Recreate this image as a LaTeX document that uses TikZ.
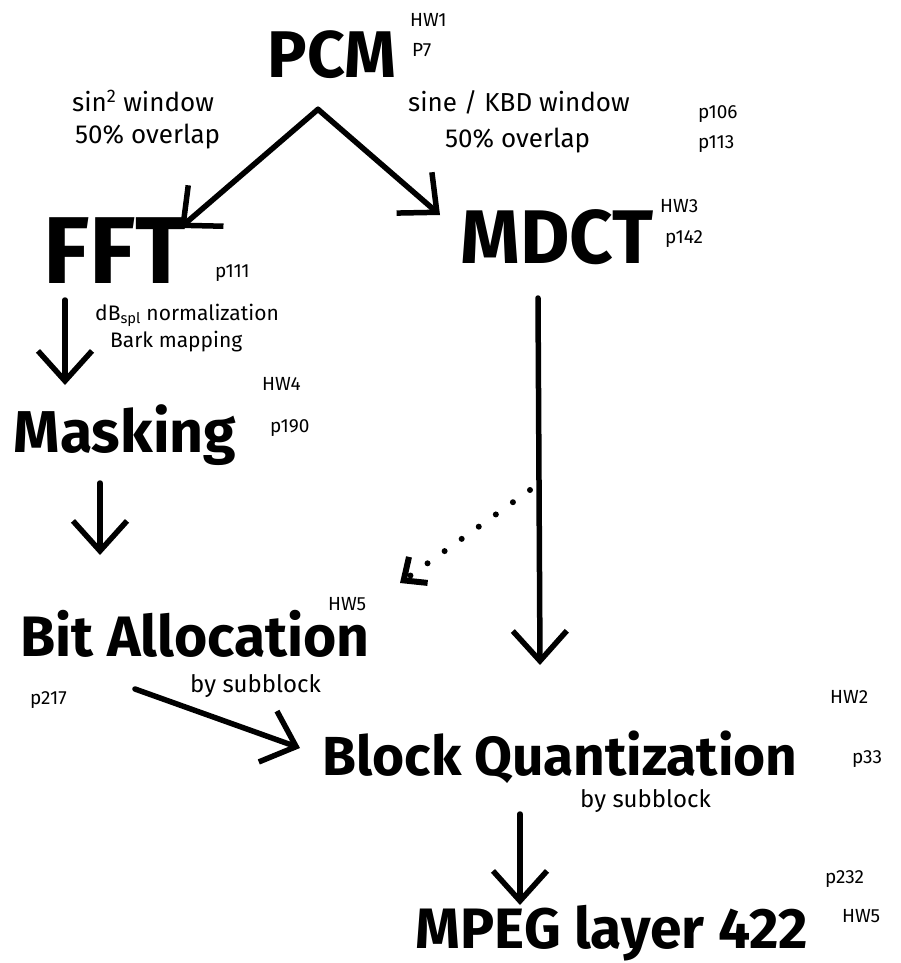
\documentclass[tikz,border=0pt]{standalone}
\usepackage{fontspec}
\setmainfont{Fira Sans}
\usetikzlibrary{arrows.meta,calc}

\begin{document}
\begin{tikzpicture}[x=1pt,y=-1pt,
  flow/.style={-{Straight Barb[length=30pt,width=54pt]},line width=5.5pt,line cap=round,line join=round},
  hint/.style={-{Straight Barb[length=18pt,width=32pt]},line width=6pt,line cap=round,dash pattern=on 0pt off 21pt},
  big/.style={inner sep=0pt,anchor=base,font=\fontsize{#1}{#1}\selectfont\bfseries},
  note/.style={inner sep=0pt,anchor=base west,font=\fontsize{26}{31}\selectfont},
  tag/.style={inner sep=0pt,anchor=base west,font=\fontsize{19}{22}\selectfont}]
  \useasboundingbox (0,0) rectangle (901,963);
  % main blocks
  \node[big=66] (pcm) at (332,78) {PCM};
  \node[big=95] (fft) at (115,283) {FFT};
  \node[big=76] (mdct) at (557,263) {MDCT};
  \node[big=59] (mask) at (125,452) {Masking};
  \node[big=57] (ba) at (195,656) {Bit Allocation};
  \node[big=55] (bq) at (560,775) {Block Quantization};
  \node[big=57] (mpeg) at (612,948) {MPEG layer 422};
  % notes on the blocks
  \node[tag] (hwa) at (410,27) {HW1};
  \node[tag] (pa) at (412,57) {P7};
  \node[note] (sinw) at (72,112) {sin\textsuperscript{2} window};
  \node[note] (sinov) at (75,143) {50\% overlap};
  \node[note] (kbdw) at (408,112) {sine / KBD window};
  \node[note] (kbdov) at (445,147) {50\% overlap};
  \node[tag] (pb) at (698,118) {p106};
  \node[tag] (pc) at (698,148) {p113};
  \node[tag] (pd) at (215,277) {p111};
  \node[tag,font=\fontsize{21}{24}\selectfont] (spl) at (95,320) {dB\textsubscript{spl} normalization};
  \node[tag,font=\fontsize{21}{24}\selectfont] (bark) at (110,347) {Bark mapping};
  \node[tag] (hwc) at (660,212) {HW3};
  \node[tag] (pe) at (665,243) {p142};
  \node[tag] (hwd) at (262,390) {HW4};
  \node[tag] (pf) at (270,432) {p190};
  \node[tag] (hwe) at (328,610) {HW5};
  \node[note,font=\fontsize{24}{28}\selectfont] (basub) at (190,692) {by subblock};
  \node[tag] (pg) at (30,704) {p217};
  \node[tag] (hwb) at (830,703) {HW2};
  \node[tag] (ph) at (852,763) {p33};
  \node[note,font=\fontsize{24}{28}\selectfont] (bqsub) at (580,807) {by subblock};
  \node[tag] (pi) at (825,883) {p232};
  \node[tag] (hwf) at (842,922) {HW5};
  % connectors
  \coordinate (split) at ($(pcm.south)+(-14,30)$);
  \coordinate (tap) at ($(mdct.base)+(-27,227)$);
  \draw[flow] (split) -- ($(fft.base)+(65,-55)$);
  \draw[flow] (split) -- ($(mdct.base)+(-117,-48)$);
  \draw[flow] ($(fft.base)+(-50,17)$) -- ($(mask.base)+(-60,-67)$);
  \draw[flow] ($(mask.base)+(-25,31)$) -- ($(ba.base)+(-95,-101)$);
  \draw[flow] ($(mdct.base)+(-19,35)$) -- ($(bq.base)+(-20,-110)$);
  \draw[hint] (tap) -- ($(ba.base)+(205,-73)$);
  \draw[flow] ($(ba.base)+(-60,33)$) -- ($(bq.base)+(-260,-27)$);
  \draw[flow] ($(bq.base)+(-40,39)$) -- ($(mpeg.base)+(-92,-43)$);
\end{tikzpicture}
\end{document}
